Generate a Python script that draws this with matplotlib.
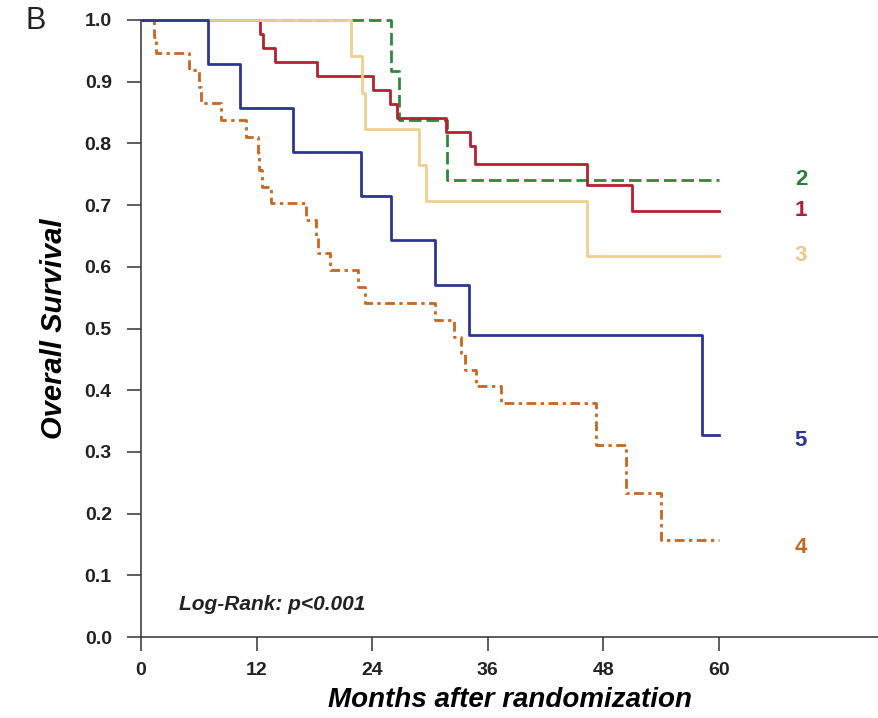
import matplotlib
matplotlib.use("Agg")
import matplotlib.pyplot as plt

# Kaplan-Meier step data (months, survival)
months_1 = [0, 12.4, 12.7, 13.9, 18.3, 24.1, 25.8, 26.6, 31.7, 34.2, 34.7, 46.3, 51.0, 60]
surv_1 = [1.0, 0.977, 0.955, 0.932, 0.909, 0.886, 0.864, 0.841, 0.818, 0.795, 0.767, 0.733, 0.691, 0.691]

months_2 = [0, 26.0, 26.8, 31.8, 60]
surv_2 = [1.0, 0.917, 0.838, 0.741, 0.741]

months_3 = [0, 21.8, 22.9, 23.2, 28.9, 29.6, 46.3, 60]
surv_3 = [1.0, 0.941, 0.882, 0.824, 0.765, 0.706, 0.618, 0.618]

months_4 = [0, 1.3, 1.6, 5.0, 6.0, 6.2, 8.3, 10.9, 12.1, 12.2, 12.6, 13.5, 17.1, 18.2, 18.4,
            19.6, 22.5, 23.2, 30.5, 32.5, 33.2, 33.6, 34.8, 37.4, 47.2, 50.3, 54.0, 60]
surv_4 = [1.0, 0.973, 0.946, 0.919, 0.892, 0.865, 0.838, 0.811, 0.784, 0.757, 0.730, 0.703, 0.676,
          0.649, 0.622, 0.595, 0.568, 0.541, 0.514, 0.487, 0.460, 0.433, 0.406, 0.379, 0.311,
          0.233, 0.157, 0.157]

months_5 = [0, 7.0, 10.3, 15.8, 22.8, 26.0, 30.5, 34.0, 58.2, 60]
surv_5 = [1.0, 0.929, 0.857, 0.786, 0.714, 0.643, 0.571, 0.490, 0.327, 0.327]

group_labels = ["1", "2", "3", "4", "5"]
x_ticks = [0, 12, 24, 36, 48, 60]
y_ticks = [0.0, 0.1, 0.2, 0.3, 0.4, 0.5, 0.6, 0.7, 0.8, 0.9, 1.0]

SANS = ["Liberation Sans", "DejaVu Sans"]


def plot_curves(ax):
    # order matters: the lines overlap along 1.0
    curves = [
        (months_2, surv_2, "#2f8a3e", (0, (4.5, 1.8)), 1),
        (months_1, surv_1, "#b5202f", "-", 2),
        (months_3, surv_3, "#efcf8e", "-", 3),
        (months_4, surv_4, "#c8661f", (0, (3.5, 1.6, 1.2, 1.6)), 4),
        (months_5, surv_5, "#2b3690", "-", 5),
    ]
    for x, y, color, ls, z in curves:
        ax.step(x, y, where="post", color=color, linestyle=ls, lw=2.0,
                zorder=z, clip_on=False)

    label_y = [surv_1[-1], surv_2[-1], surv_3[-1], surv_4[-1] - 0.012, surv_5[-1] - 0.008]
    label_colors = ["#b01c35", "#2f7d3b", "#ebc98a", "#c8661f", "#2b3690"]
    for lab, yv, c in zip(group_labels, label_y, label_colors):
        ax.text(68.5, yv, lab, color=c, fontsize=16, fontweight="bold",
                family=SANS, ha="center", va="center")


def style_axes(ax):
    ax.set_xlim(0, 76.6)
    ax.set_ylim(0, 1.0)
    ax.set_xticks(x_ticks)
    ax.set_yticks(y_ticks)
    ax.set_xticklabels([str(t) for t in x_ticks])
    ax.set_yticklabels([f"{t:.1f}" for t in y_ticks])
    for lab in ax.get_xticklabels() + ax.get_yticklabels():
        lab.set_family(SANS)
        lab.set_fontweight("bold")
        lab.set_fontsize(14)
        lab.set_color("#222222")
    ax.spines["top"].set_visible(False)
    ax.spines["right"].set_visible(False)
    for s in ["left", "bottom"]:
        ax.spines[s].set_linewidth(1.1)
        ax.spines[s].set_color("#333333")
    ax.tick_params(axis="both", direction="out", length=10, width=1.1, color="#333333")
    ax.tick_params(axis="y", pad=11)
    ax.tick_params(axis="x", pad=8)

    ax.set_xlabel("Months after randomization", fontsize=20, fontweight="bold",
                  style="italic", family=SANS, labelpad=6)
    ax.set_ylabel("Overall Survival", fontsize=21, fontweight="bold",
                  style="italic", family=SANS, labelpad=12)
    ax.text(3.9, 0.053, "Log-Rank: p<0.001", fontsize=15, fontweight="bold",
            style="italic", family=SANS, color="#222222", va="center")


def main():
    fig = plt.figure(figsize=(8.79, 7.18), dpi=100)
    ax = fig.add_axes([141 / 879, 81 / 718, 738 / 879, 617 / 718])
    plot_curves(ax)
    style_axes(ax)
    fig.text(26 / 879, 1 - 21 / 718, "B", fontsize=22, family=SANS,
             ha="left", va="center", color="#222222")
    fig.savefig("out.png", dpi=100)


if __name__ == "__main__":
    main()
